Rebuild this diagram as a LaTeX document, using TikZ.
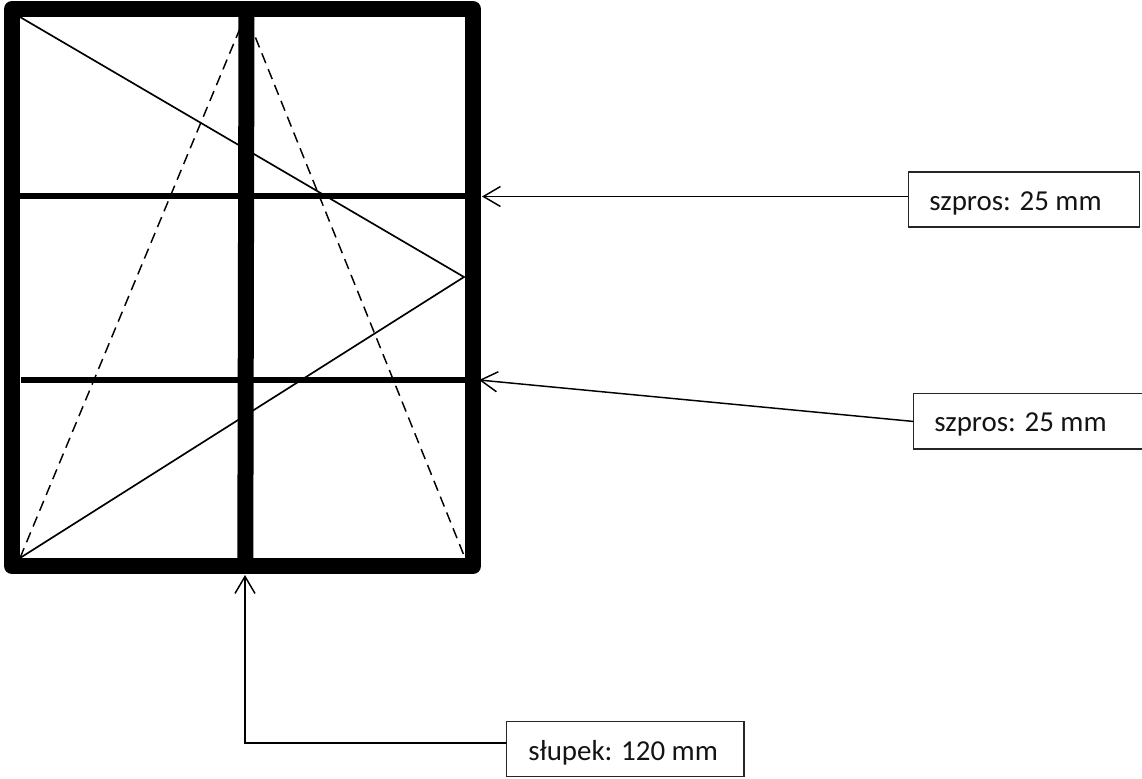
\documentclass[tikz,border=0pt]{standalone}
\usepackage{fontspec}
\setmainfont{Carlito}
\usetikzlibrary{arrows.meta}
\tikzset{
  frameshape/.style={draw=black,line width=12pt,line join=round,inner sep=0pt,minimum width=345.75pt,minimum height=417.75pt},
  mullion/.style={draw=black,line width=12pt},
  bar/.style={draw=black,line width=4.5pt},
  diag/.style={draw=black,line width=1.25pt,line join=miter},
  dashdiag/.style={draw=black,line width=1.1pt,dash pattern=on 8pt off 4.8pt},
  box/.style={draw=black!85,line width=0.9pt,fill=white,inner sep=0pt},
  lbl/.style={inner sep=0pt,anchor=base west,text=black!92,font=\fontsize{21.7pt}{24pt}\selectfont},
  conn/.style={draw=black,line width=1.1pt,line cap=round,line join=miter},
  arr/.style={conn,-{Straight Barb[length=12.75pt,width=15pt]}}
}
\begin{document}
\begin{tikzpicture}[x=0.75pt,y=-0.75pt]
\useasboundingbox (0,0) rectangle (1142,778);
\clip (0,0) rectangle (1142,778);
\fill[white] (0,0) rectangle (1142,778);
% named points
\coordinate (tl) at (20,17);
\coordinate (bl) at (20,558);
\coordinate (br) at (465,558);
\coordinate (apexR) at (464,277);
\coordinate (apexT) at (246,14);
\coordinate (mt) at (246.5,9);
\coordinate (mb) at (245.3,566);
\coordinate (b1l) at (20,196);
\coordinate (b1r) at (470,196);
\coordinate (b2l) at (21,380);
\coordinate (b2r) at (470,380);
\coordinate (tip1) at (482,196.5);
\coordinate (tip2) at (479,380);
\coordinate (tip3) at (245,575);
\coordinate (elbow) at (245,743);
% diagonals
\draw[dashdiag] (bl) -- (apexT) -- (br);
\draw[diag] (tl) -- (apexR) -- (bl);
% bars
\draw[bar] (b1l) -- (b1r);
\draw[bar] (b2l) -- (b2r);
% frame and mullion
\node[frameshape] (frame) at (242.5,287.5) {};
\draw[mullion] (mt) -- (mb);
% boxes
\node[box,minimum width=173.4pt,minimum height=41.3pt] (box1) at (1024,199.5) {};
\node[box,minimum width=177pt,minimum height=41.3pt] (box2) at (1031.5,421.4) {};
\node[box,minimum width=178pt,minimum height=41.3pt] (box3) at (625.3,749.2) {};
\node[lbl] (t1) at (929,210) {szpros: 25 mm};
\node[lbl] (t2) at (934,431.7) {szpros: 25 mm};
\node[lbl] (t3) at (528,760) {słupek: 120 mm};
% connectors
\draw[arr] (box1.west |- tip1) -- (tip1);
\draw[arr] (box2.west) -- (tip2);
\draw[arr] (box3.west |- elbow) -- (elbow) -- (tip3);
\end{tikzpicture}
\end{document}
